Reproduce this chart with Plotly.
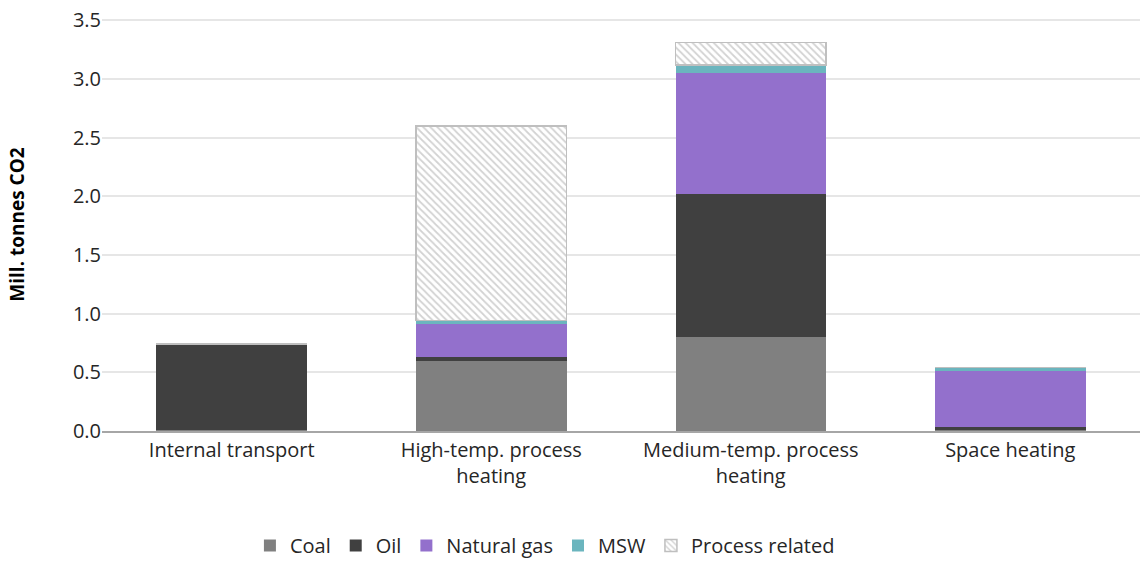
import plotly.graph_objects as go

categories = ["Internal transport", "High-temp. process<br>heating",
              "Medium-temp. process<br>heating", "Space heating"]
coal = [0.01, 0.60, 0.80, 0.01]
oil = [0.73, 0.03, 1.22, 0.02]
natural_gas = [0.0, 0.28, 1.03, 0.48]
msw = [0.0, 0.03, 0.07, 0.03]
process_related = [0.0, 1.66, 0.19, 0.0]
y_ticks = [0, 0.5, 1.0, 1.5, 2.0, 2.5, 3.0, 3.5]

font = "'Open Sans', sans-serif"
fig = go.Figure()
series = [
    ("Coal", coal, "#808080"),
    ("Oil", oil, "#404040"),
    ("Natural gas", natural_gas, "#9370CC"),
    ("MSW", msw, "#6BB5BE"),
]
for name, vals, col in series:
    fig.add_trace(go.Bar(x=categories, y=vals, name=name,
                         marker=dict(color=col, line=dict(width=0))))
fig.add_trace(go.Bar(x=categories, y=process_related, name="Process related",
                     marker=dict(color="white",
                                 line=dict(color="#BFBFBF", width=1.5),
                                 pattern=dict(shape="\\", fgcolor="#A6A6A6",
                                              bgcolor="white", size=5, solidity=0.35))))

fig.update_layout(
    barmode="stack",
    bargap=0.42,
    width=1140, height=565,
    margin=dict(l=102, r=0, t=18, b=134),
    plot_bgcolor="white", paper_bgcolor="white",
    font=dict(family=font, size=20, color="#262626"),
    showlegend=True,
    legend=dict(orientation="h", xref="container", x=0.478, xanchor="center",
                yref="container", y=0.0, yanchor="bottom",
                font=dict(size=20, color="#262626"), itemwidth=30,
                traceorder="normal"),
    xaxis=dict(range=[-0.5, 3.5], showline=True, linecolor="#A6A6A6", linewidth=1.5,
               ticks="", automargin=False, tickfont=dict(size=20, color="#262626")),
    yaxis=dict(range=[0, 3.52], tickvals=y_ticks, tickformat=".1f",
               showgrid=True, gridcolor="#E6E6E6", gridwidth=1.5,
               zeroline=False, showline=False, ticks="", automargin=False,
               ticklabeloverflow="allow",
               tickfont=dict(size=20, color="#262626"),
               title=dict(text="<b>Mill. tonnes CO2</b>", font=dict(size=19, color="#000000"),
                          standoff=43)),
)
fig.write_html("out.html", config={"displayModeBar": False},
               post_script="document.body.style.margin='0';")
